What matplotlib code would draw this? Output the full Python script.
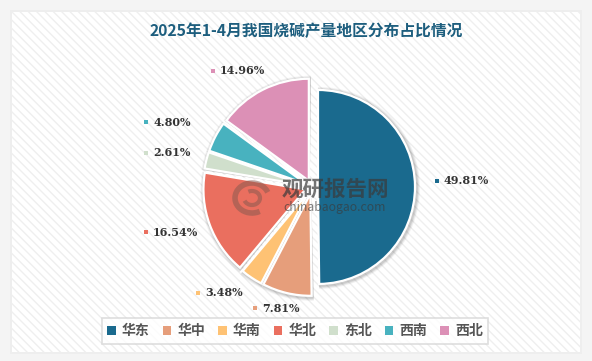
import matplotlib.pyplot as plt
import numpy as np
from matplotlib.patches import Wedge, Rectangle, Patch, Arc

plt.rcParams['font.family'] = ['Noto Sans CJK SC', 'DejaVu Sans']
plt.rcParams['hatch.linewidth'] = 1.0

# data
regions = ['华东', '华中', '华南', '华北', '东北', '西南', '西北']
shares = [49.81, 7.81, 3.48, 16.54, 2.61, 4.80, 14.96]
colors = ['#1a6a8e', '#e69e7b', '#fec274', '#ea6f5f', '#d0dfcc', '#48b2bf', '#dc90b6']
title = '2025年1-4月我国烧碱产量地区分布占比情况'

# styling / layout (pixel units, y measured from top)
W, H = 592, 361
center = (312, 187)
radii = [97, 102, 102, 102, 102, 102, 102]
offsets = [6, 7, 7, 7, 7, 7, 7]
label_pos = [(437, 181), (255, 308), (198, 293), (146, 232), (146, 153), (146, 122), (213, 71)]
text_color = '#333333'


def py(y):
    return H - y


fig = plt.figure(figsize=(W / 100, H / 100), dpi=100)
fig.patch.set_facecolor('#f4f4f4')
ax = fig.add_axes([0, 0, 1, 1])
ax.set_xlim(0, W)
ax.set_ylim(0, H)
ax.axis('off')

# panel with faint diagonal stripes
ax.add_patch(Rectangle((10, py(354)), 572, 344, facecolor='#eaeaea', edgecolor='none', alpha=0.5, zorder=0))
ax.add_patch(Rectangle((12, py(352)), 568, 340, facecolor='white', edgecolor='#efefef',
                       hatch='\\\\\\\\', linewidth=0, zorder=0))

ax.text(W / 2 + 10, py(31), title, ha='center', va='center', fontsize=11.3,
        fontweight='bold', color='#1d5e7e')

# pie, clockwise from 12 o'clock
total = sum(shares)
start = 90.0
for i, (v, c) in enumerate(zip(shares, colors)):
    sweep = 360.0 * v / total
    t1, t2 = start - sweep, start
    mid = np.deg2rad((t1 + t2) / 2)
    cx = center[0] + offsets[i] * np.cos(mid)
    cy = py(center[1]) + offsets[i] * np.sin(mid)
    for k, a in [(4, 0.05), (3, 0.07), (2, 0.09)]:
        ax.add_patch(Wedge((cx + 1, cy - 1), radii[i] + k, t1 - 0.6, t2 + 0.6,
                           facecolor='black', edgecolor='none', alpha=a, zorder=1))
    ax.add_patch(Wedge((cx, cy), radii[i], t1, t2, facecolor=c, edgecolor='white',
                       linewidth=1.6, zorder=2))
    start = t1

# watermark
ax.text(282, py(189), '观研报告网', ha='left', va='center', fontsize=15.5, fontweight='bold',
        color='#3a3a3a', alpha=0.7, zorder=3)
ax.text(283, py(207), 'chinabaogao.com', ha='left', va='center', fontsize=8.8,
        color='#3a3a3a', alpha=0.65, zorder=3)
ax.add_patch(Arc((252, py(198)), 34, 30, theta1=20, theta2=300, linewidth=4,
                 color='#8a5a50', alpha=0.55, zorder=3))
ax.add_patch(Arc((252, py(198)), 16, 14, theta1=200, theta2=480, linewidth=3,
                 color='#8a5a50', alpha=0.55, zorder=3))

# outside labels
for (lx, ly), v, c in zip(label_pos, shares, colors):
    ax.add_patch(Rectangle((lx - 2, py(ly) - 2), 4, 4, facecolor=c, edgecolor='none', zorder=4))
    ax.text(lx + 7, py(ly), f'{v:.2f}%', ha='left', va='center', fontsize=8,
            fontweight='bold', family='DejaVu Serif', color=text_color, zorder=4)

# legend
handles = [Patch(facecolor=c, edgecolor='none', label=r) for r, c in zip(regions, colors)]
leg = fig.legend(handles=handles, loc='center', ncol=7, bbox_to_anchor=((103 + 487) / 2 / W, 1 - 331 / H),
                 frameon=True, fancybox=False, edgecolor='#d6d6d6', facecolor='white',
                 handlelength=0.6, handleheight=0.6, handletextpad=0.45, columnspacing=0.95,
                 borderpad=0.4, borderaxespad=0, prop={'size': 10, 'weight': 'bold'})
leg.get_frame().set_linewidth(1.2)
for t in leg.get_texts():
    t.set_color('#555555')

fig.savefig('out.png', dpi=100, facecolor=fig.get_facecolor())
